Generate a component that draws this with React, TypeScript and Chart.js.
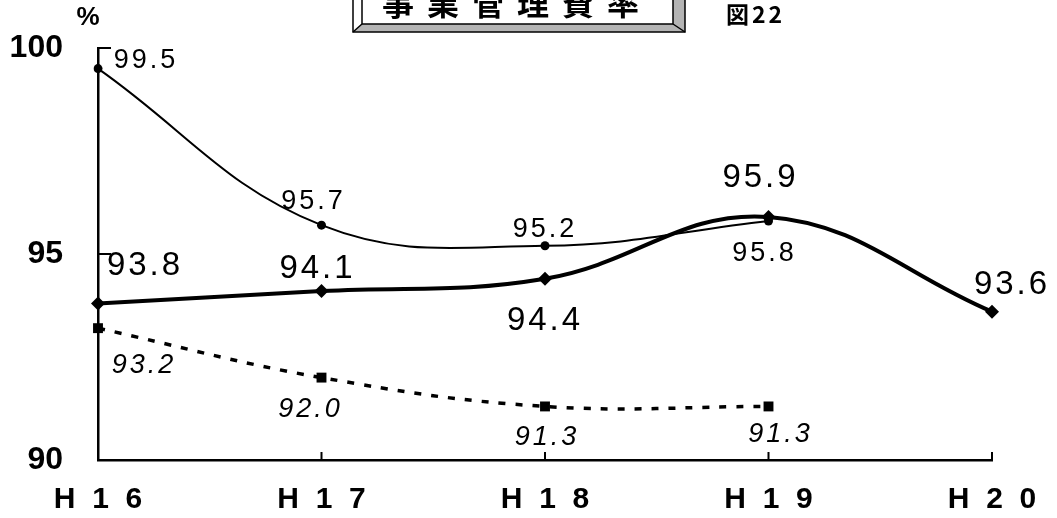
import { useEffect, useRef } from 'react';
import { Chart, registerables } from 'chart.js';

Chart.register(...registerables);

// ---- data ----
const categories = ['H  1  6', 'H  1  7', 'H  1  8', 'H  1  9', 'H  2  0'];
const seriesThin = [99.5, 95.7, 95.2, 95.8, null];
const seriesThick = [93.8, 94.1, 94.4, 95.9, 93.6];
const seriesDashed = [93.2, 92.0, 91.3, 91.3, null];
const yMin = 90;
const yMax = 100;
const yStep = 5;
const titleText = '事業管理費率';
const figureText = '図22';
const unitText = '%';

// ---- label placement (pixel offsets from each point) ----
const thinOffsets = [[48, -8], [-8, -24], [0, -16], [-4, 33]];
const thickOffsets = [[47, -38], [-4, -22], [0, 42], [-8, -39], [20, -27]];
const dashedOffsets = [[46, 37], [-11, 32], [2, 31], [12, 28]];

const SANS = "'Liberation Sans', Arial, sans-serif";
const CJK = "'Noto Sans CJK JP', 'Noto Sans', sans-serif";

const labelStyles = [
  { font: `normal 400 27px ${SANS}`, spacing: '3px', offsets: thinOffsets },
  { font: `normal 400 33px ${SANS}`, spacing: '3px', offsets: thickOffsets },
  { font: `italic 400 27px ${SANS}`, spacing: '3px', offsets: dashedOffsets },
];

const labelPlugin = {
  id: 'pointLabels',
  afterDatasetsDraw(chart: any) {
    const ctx = chart.ctx;
    chart.data.datasets.forEach((ds: any, di: number) => {
      const meta = chart.getDatasetMeta(di);
      const st = labelStyles[di];
      ctx.save();
      ctx.font = st.font;
      (ctx as any).letterSpacing = st.spacing;
      ctx.fillStyle = '#000';
      ctx.textAlign = 'center';
      ctx.textBaseline = 'middle';
      meta.data.forEach((el: any, i: number) => {
        const v = ds.data[i];
        if (v === null || v === undefined) return;
        const off = st.offsets[i] || [0, 0];
        ctx.fillText(Number(v).toFixed(1), el.x + off[0], el.y + off[1]);
      });
      ctx.restore();
    });
  },
};

const decorPlugin = {
  id: 'decor',
  afterDraw(chart: any) {
    const ctx = chart.ctx;
    const area = chart.chartArea;
    const xs = chart.scales.x;
    const ys = chart.scales.y;
    ctx.save();
    // inward ticks
    ctx.strokeStyle = '#000';
    ctx.lineWidth = 2;
    ys.ticks.forEach((t: any) => {
      const y = ys.getPixelForValue(t.value);
      ctx.beginPath();
      ctx.moveTo(area.left, y);
      ctx.lineTo(area.left + 13, y);
      ctx.stroke();
    });
    categories.forEach((_c, i) => {
      const x = xs.getPixelForValue(i);
      ctx.beginPath();
      ctx.moveTo(x, area.bottom);
      ctx.lineTo(x, area.bottom - 8);
      ctx.stroke();
    });

    // unit
    ctx.fillStyle = '#000';
    ctx.font = `bold 26px ${SANS}`;
    ctx.textAlign = 'center';
    ctx.textBaseline = 'middle';
    ctx.fillText(unitText, area.left - 10, 18);

    // title box with bevel
    const oL = 353, oR = 685, oB = 32, iL = 362, iR = 673, iB = 24;
    ctx.fillStyle = '#b4b4b4';
    ctx.beginPath();
    ctx.moveTo(oL, oB);
    ctx.lineTo(oR, oB);
    ctx.lineTo(oR, -2);
    ctx.lineTo(iR, -2);
    ctx.lineTo(iR, iB);
    ctx.lineTo(iL, iB);
    ctx.closePath();
    ctx.fill();
    ctx.fillStyle = '#fff';
    ctx.fillRect(iL, -2, iR - iL, iB + 2);
    ctx.strokeStyle = '#000';
    ctx.lineWidth = 1.5;
    ctx.strokeRect(oL, -2, oR - oL, oB + 2);
    ctx.strokeRect(iL, -2, iR - iL, iB + 2);
    ctx.beginPath();
    ctx.moveTo(oL, oB); ctx.lineTo(iL, iB);
    ctx.moveTo(oR, oB); ctx.lineTo(iR, iB);
    ctx.stroke();

    ctx.fillStyle = '#000';
    ctx.font = `bold 32px ${CJK}`;
    ctx.textAlign = 'center';
    ctx.textBaseline = 'alphabetic';
    const chars = Array.from(titleText);
    chars.forEach((ch, i) => {
      ctx.fillText(ch, 398 + i * 45, 15);
    });

    // figure number
    ctx.font = `bold 23px ${CJK}`;
    ctx.textAlign = 'left';
    ctx.textBaseline = 'middle';
    (ctx as any).letterSpacing = '3px';
    ctx.fillText(figureText, 726, 14);
    ctx.restore();
  },
};

export default function App() {
  const ref = useRef<HTMLCanvasElement | null>(null);
  useEffect(() => {
    if (!ref.current) return;
    const chart = new Chart(ref.current, {
      type: 'line',
      data: {
        labels: categories,
        datasets: [
          {
            data: seriesThin,
            borderColor: '#000',
            backgroundColor: '#000',
            borderWidth: 2,
            tension: 0.4,
            pointStyle: 'circle',
            pointRadius: 4.5,
            pointBorderWidth: 0,
            spanGaps: false,
          },
          {
            data: seriesThick,
            borderColor: '#000',
            backgroundColor: '#000',
            borderWidth: 4,
            tension: 0.4,
            pointStyle: 'rectRot',
            pointRadius: 7,
            pointBorderWidth: 0,
          },
          {
            data: seriesDashed,
            borderColor: '#000',
            backgroundColor: '#000',
            borderWidth: 3.5,
            borderDash: [7, 10],
            tension: 0.4,
            pointStyle: 'rect',
            pointRadius: 7,
            pointBorderWidth: 0,
          },
        ] as any,
      },
      options: {
        animation: false,
        responsive: true,
        maintainAspectRatio: false,
        layout: { padding: { top: 48, right: 65, left: 0, bottom: 0 } },
        plugins: {
          legend: { display: false },
          tooltip: { enabled: false },
          title: { display: false },
        },
        scales: {
          x: {
            type: 'category',
            offset: false,
            grid: {
              display: true,
              drawOnChartArea: false,
              drawTicks: true,
              tickLength: 22,
              tickColor: 'rgba(0,0,0,0)',
            },
            border: { display: true, color: '#000', width: 2.5 },
            ticks: {
              color: '#000',
              font: { family: SANS, size: 30, weight: 'bold' },
              padding: 0,
              maxRotation: 0,
              autoSkip: false,
            },
            afterFit: (s: any) => { s.height = 58; },
          },
          y: {
            min: yMin,
            max: yMax,
            grid: {
              display: true,
              drawOnChartArea: false,
              drawTicks: true,
              tickLength: 35,
              tickColor: 'rgba(0,0,0,0)',
            },
            border: { display: true, color: '#000', width: 2.5 },
            ticks: {
              stepSize: yStep,
              color: '#000',
              font: { family: SANS, size: 32, weight: 'bold' },
              padding: 0,
            },
            afterFit: (s: any) => { s.width = 98; },
          },
        },
      } as any,
      plugins: [labelPlugin, decorPlugin],
    });
    return () => chart.destroy();
  }, []);
  return (
    <div style={{ position: 'fixed', left: 0, top: 0, width: 1057, height: 518, background: '#fff' }}>
      <canvas ref={ref} />
    </div>
  );
}
